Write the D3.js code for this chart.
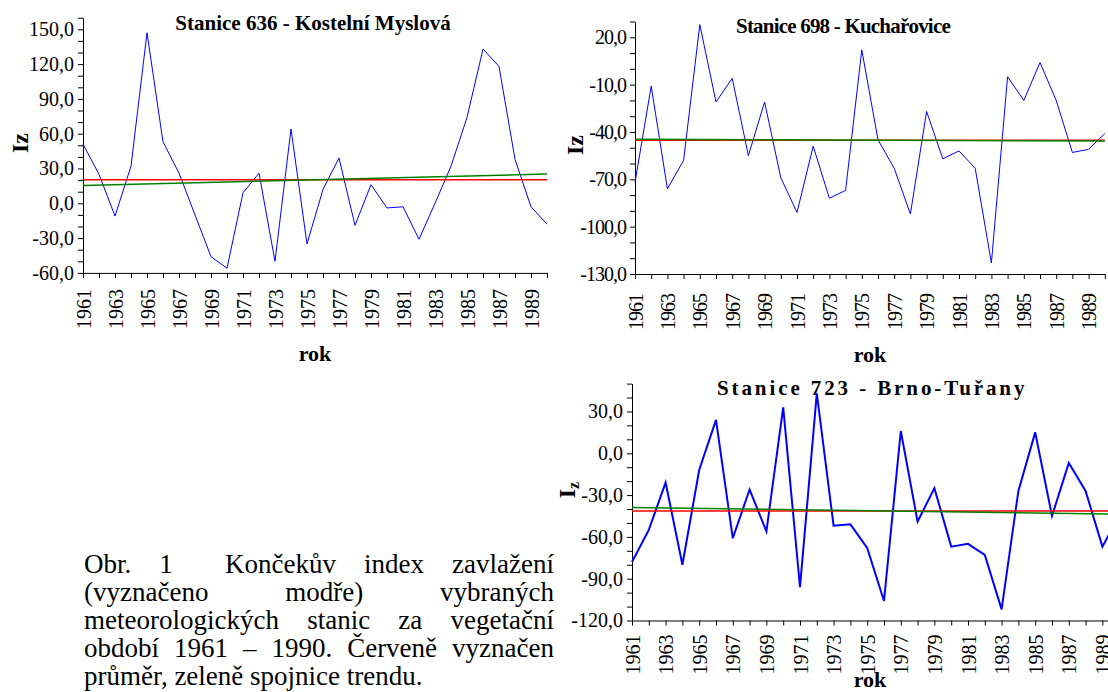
<!DOCTYPE html>
<html>
<head>
<meta charset="utf-8">
<script src="https://cdn.jsdelivr.net/npm/d3@7"></script>
<style>
  body { margin: 0; background: #fff; }
  #chart { position: absolute; left: 0; top: 0; }
  #chart text { font-family: "Liberation Serif", "DejaVu Serif", serif; fill: #000; }
  #caption {
    position: absolute; left: 84px; top: 550px; width: 470px;
    font-family: "Liberation Serif", "DejaVu Serif", serif;
    font-size: 27px; line-height: 28px; color: #000;
  }
  #caption div { text-align: justify; text-align-last: justify; white-space: nowrap; }
  #caption div.last { text-align-last: left; }
  .tab { display: inline-block; width: 24px; }
</style>
</head>
<body>
<svg id="chart" width="1108" height="692"></svg>
<div id="caption">
  <div>Obr. 1<span class="tab"></span> Končekův index zavlažení</div>
  <div>(vyznačeno modře) vybraných</div>
  <div>meteorologických stanic za vegetační</div>
  <div>období 1961 – 1990. Červeně vyznačen</div>
  <div class="last">průměr, zeleně spojnice trendu.</div>
</div>
<script>
// years of the vegetation period
let years = [1961, 1962, 1963, 1964, 1965, 1966, 1967, 1968, 1969, 1970,
             1971, 1972, 1973, 1974, 1975, 1976, 1977, 1978, 1979, 1980,
             1981, 1982, 1983, 1984, 1985, 1986, 1987, 1988, 1989, 1990]

// Končekův index zavlažení (Iz)
let kostelniMyslova = [51, 25, -11, 32, 147, 53, 26, -10, -46, -56,
                       9, 26, -50, 64, -35, 12, 39, -19, 16, -4,
                       -3, -31, 0, 32, 74, 133, 118, 38, -3, -18]
let kucharovice = [-72, -11, -76, -58, 28, -21, -6, -55, -21, -69,
                   -91, -49, -82, -77, 12, -45, -63, -92, -27, -57,
                   -52, -63, -123, -5, -20, 4, -20, -53, -51, -41]
let brnoTurany = [-78, -55, -21, -80, -12, 24, -61, -26, -56, 33,
                  -96, 43, -52, -51, -68, -106, 16, -49, -25, -67,
                  -65, -73, -112, -27, 15, -45, -7, -27, -67, -45]

// tick labels
let yTicks636 = [-60, -30, 0, 30, 60, 90, 120, 150]
let yTicks698 = [-130, -100, -70, -40, -10, 20]
let yTicks723 = [-120, -90, -60, -30, 0, 30]
let yearLabels = [1961, 1963, 1965, 1967, 1969, 1971, 1973, 1975, 1977, 1979,
                  1981, 1983, 1985, 1987, 1989]

let fmt = d3.formatLocale({decimal: ",", thousands: "", grouping: [3], currency: ["", ""], minus: "-"}).format(".1f")
let serif = '"Liberation Serif", "DejaVu Serif", serif'

let svg = d3.select("#chart")

// layout of the three panels
let panels = [
  {title: "Stanice 636 - Kostelní Myslová", values: kostelniMyslova, ticks: yTicks636,
   xRange: [83, 547], yDomain: [-60, 160], yRange: [272.9, 17.7],
   font: 20, spacing: 0, titleFont: 21, titleSpacing: 0, titleX: 313, titleY: 30, titleAnchor: "middle",
   izX: 28, izY: 143, sub: false, rokX: 315, rokY: 361, labelGap: 16, blue: 1},
  {title: "Stanice 698 - Kuchařovice", values: kucharovice, ticks: yTicks698,
   xRange: [635, 1104.8], yDomain: [-130, 30], yRange: [274, 21.5],
   font: 20, spacing: -1, titleFont: 21, titleSpacing: -0.8, titleX: 843, titleY: 33, titleAnchor: "middle",
   izX: 583, izY: 145, sub: false, rokX: 870, rokY: 362, labelGap: 20, blue: 1},
  {title: "Stanice 723 - Brno-Tuřany", values: brnoTurany, ticks: yTicks723,
   xRange: [632, 1119.2], yDomain: [-120, 50], yRange: [620.5, 383.6],
   font: 20, spacing: 0, titleFont: 21, titleSpacing: 2.9, titleX: 717, titleY: 395, titleAnchor: "start",
   izX: 575, izY: 490, sub: true, rokX: 870, rokY: 687, labelGap: 14, blue: 2}
]

panels.forEach(p => {
  let x = d3.scaleLinear().domain([years[0], years[years.length - 1]]).range(p.xRange)
  let y = d3.scaleLinear().domain(p.yDomain).range(p.yRange)
  let g = svg.append("g")

  // y axis: minor ticks every 10, labels every 30
  let yAxis = d3.axisLeft(y)
    .tickValues(d3.range(p.yDomain[0], p.yDomain[1] + 1, 10))
    .tickSize(5).tickSizeOuter(0)
    .tickFormat(d => p.ticks.includes(d) ? fmt(d) : "")
  let gy = g.append("g")
    .attr("transform", "translate(" + p.xRange[0] + ",0)")
    .call(yAxis)
  gy.attr("font-size", p.font).attr("font-family", serif)
  gy.selectAll("text").attr("x", -9).attr("letter-spacing", p.spacing)

  // x axis: tick at every year, label every second year, rotated
  let xAxis = d3.axisBottom(x)
    .tickValues(years)
    .tickSize(5).tickSizeOuter(0)
    .tickFormat(d => yearLabels.includes(d) ? d : "")
  let gx = g.append("g")
    .attr("transform", "translate(0," + p.yRange[0] + ")")
    .call(xAxis)
  gx.attr("font-size", p.font).attr("font-family", serif)
  gx.selectAll("text")
    .attr("transform", "rotate(-90)")
    .attr("text-anchor", "end")
    .attr("x", -p.labelGap)
    .attr("y", 0)
    .attr("dy", "0.35em")
    .attr("letter-spacing", p.spacing)
  svg.selectAll(".domain, .tick line").attr("stroke", "#000")

  // blue index line
  let line = d3.line().x((d, i) => x(years[i])).y(d => y(d))
  g.append("path")
    .datum(p.values)
    .attr("fill", "none")
    .attr("stroke", "#0000ff")
    .attr("stroke-width", p.blue)
    .attr("d", line)

  // red mean
  let mean = d3.mean(p.values)
  g.append("line")
    .attr("x1", x(years[0])).attr("x2", x(years[years.length - 1]))
    .attr("y1", y(mean)).attr("y2", y(mean))
    .attr("stroke", "#ff0000").attr("stroke-width", 1.5)

  // green linear trend
  let mx = d3.mean(years)
  let slope = d3.sum(years, (t, i) => (t - mx) * (p.values[i] - mean)) / d3.sum(years, t => (t - mx) * (t - mx))
  let trend = t => mean + slope * (t - mx)
  g.append("line")
    .attr("x1", x(years[0])).attr("x2", x(years[years.length - 1]))
    .attr("y1", y(trend(years[0]))).attr("y2", y(trend(years[years.length - 1])))
    .attr("stroke", "#008000").attr("stroke-width", 1.5)

  // title
  g.append("text")
    .attr("x", p.titleX).attr("y", p.titleY)
    .attr("text-anchor", p.titleAnchor)
    .attr("font-size", p.titleFont).attr("font-weight", "bold")
    .attr("letter-spacing", p.titleSpacing)
    .text(p.title)

  // y label
  let iz = g.append("text")
    .attr("transform", "translate(" + p.izX + "," + p.izY + ") rotate(-90)")
    .attr("text-anchor", "middle")
    .attr("font-size", 24).attr("font-weight", "bold")
  if (p.sub) {
    iz.append("tspan").text("I")
    iz.append("tspan").attr("font-size", 16).attr("dy", 4).text("z")
  } else {
    iz.text("Iz")
  }

  // x label
  g.append("text")
    .attr("x", p.rokX).attr("y", p.rokY)
    .attr("text-anchor", "middle")
    .attr("font-size", 22).attr("font-weight", "bold")
    .text("rok")
})
</script>
</body>
</html>
